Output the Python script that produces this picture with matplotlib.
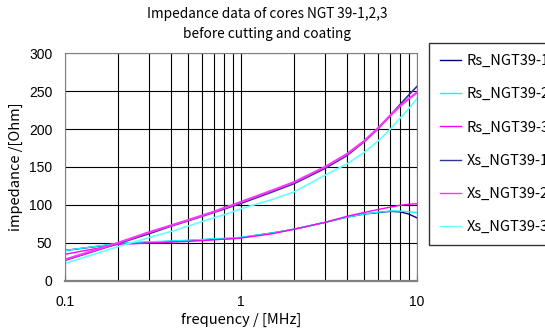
import matplotlib
matplotlib.use('Agg')
import matplotlib.pyplot as plt
from matplotlib.ticker import LogLocator, FixedLocator, NullFormatter

# frequency points [MHz]
freq = [0.1, 0.2, 0.3, 0.4, 0.5, 0.6, 0.7, 0.8, 0.9, 1,
        1.5, 2, 3, 4, 5, 6, 7, 8, 9, 10]

# series resistance (lower curves)
rs_1 = [40, 49, 51, 52, 53, 54, 55, 55.5, 56, 57,
        63, 68, 77, 84, 88, 90, 91.5, 91, 88, 83]
rs_2 = [40, 49.5, 51.5, 52.5, 53.5, 54.5, 55.5, 56, 56.5, 57.5,
        63, 68, 77, 84, 88, 90.5, 92, 92, 91, 90]
rs_3 = [35, 48, 50, 51, 52, 53, 54, 55, 55.5, 56.5,
        62, 68, 77, 85, 90, 94, 97, 99.5, 101, 101.5]

# series reactance (upper curves)
xs_1 = [27, 49, 62, 72, 79, 85, 90, 94.5, 98.5, 102,
        117, 128, 148, 165, 183, 200, 217, 232, 245, 256]
xs_2 = [28, 50, 64, 73, 80, 86, 91, 96, 100, 104,
        119, 130, 150, 167, 184, 201, 217, 230, 240, 248]
xs_3 = [23, 45, 57, 65, 72, 78, 83, 87, 91, 95,
        107, 117, 139, 154, 169, 184, 199, 214, 227, 240]

labels = ['Rs_NGT39-1', 'Rs_NGT39-2', 'Rs_NGT39-3',
          'Xs_NGT39-1', 'Xs_NGT39-2', 'Xs_NGT39-3']
colors = ['#000080', '#00FFFF', '#FF00FF', '#333399', '#FF33FF', '#66FFFF']
widths = [1.0, 1.0, 1.0, 1.2, 1.6, 1.2]

jp = ['Noto Sans CJK JP', 'DejaVu Sans']

fig = plt.figure(figsize=(5.45, 3.36), dpi=100)
ax = fig.add_axes([0.119, 0.164, 0.646, 0.678])

series = [rs_1, rs_2, rs_3, xs_1, xs_2, xs_3]
for ys, lab, c, w in zip(series, labels, colors, widths):
    ax.plot(freq, ys, color=c, lw=w, label=lab)

ax.set_xscale('log')
ax.set_xlim(0.1, 10)
ax.set_ylim(0, 300)
ax.set_yticks(range(0, 301, 50))
ax.xaxis.set_major_locator(FixedLocator([0.1, 1, 10]))
ax.set_xticklabels(['0.1', '1', '10'])
ax.xaxis.set_minor_locator(LogLocator(base=10, subs=range(2, 10)))
ax.xaxis.set_minor_formatter(NullFormatter())

ax.grid(True, which='both', axis='x', color='black', lw=0.8)
ax.grid(True, which='major', axis='y', color='black', lw=0.8)
ax.set_axisbelow(True)

for s in ax.spines.values():
    s.set_color('#808080')
ax.spines['bottom'].set_linewidth(1.6)

ax.tick_params(axis='x', which='major', direction='in', length=4, pad=10,
               labelsize=10, color='black')
ax.tick_params(axis='x', which='minor', length=0)
ax.tick_params(axis='y', length=0, pad=9, labelsize=10)
for t in ax.get_xticklabels() + ax.get_yticklabels():
    t.set_family('Liberation Sans')

ax.set_xlabel('frequency / [MHz]', family=jp, fontsize=10.5, labelpad=3)
ax.set_ylabel('impedance /[Ohm]', family=jp, fontsize=10.5, labelpad=4)

fig.text(0.49, 0.978, 'Impedance data of cores NGT 39-1,2,3\nbefore cutting and coating',
         ha='center', va='top', family=jp, fontsize=9.8, linespacing=1.5)

leg = fig.legend(loc='upper left', bbox_to_anchor=(0.787, 0.872),
                 prop={'family': jp, 'size': 10.5}, frameon=True,
                 fancybox=False, edgecolor='black', labelspacing=1.32,
                 handlelength=1.45, handletextpad=0.4, borderpad=0.75,
                 borderaxespad=0)
leg.get_frame().set_linewidth(1.0)
for line in leg.get_lines():
    line.set_linewidth(1.0)

plt.savefig('out.png', dpi=100)
